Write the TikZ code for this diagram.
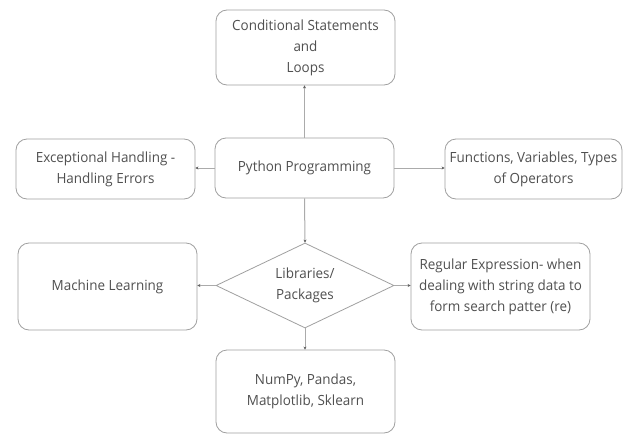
\documentclass[tikz,border=0pt]{standalone}
\usepackage{fontspec}
\setmainfont{Open Sans}[FakeStretch=0.96]
\usetikzlibrary{shapes.geometric,arrows.meta}
\definecolor{boxline}{HTML}{A0A0A0}
\definecolor{linkline}{HTML}{ABABAB}
\definecolor{txt}{HTML}{505050}
\definecolor{tipcol}{HTML}{606060}
\tikzset{
  card/.style={draw=boxline, line width=0.8pt, rounded corners=11pt, fill=white,
    align=center, text=txt, font=\fontsize{14}{21}\selectfont, inner sep=0pt},
  choice/.style={draw=boxline, line width=0.8pt, diamond, aspect=2.09, fill=white,
    align=center, text=txt, font=\fontsize{14}{21}\selectfont, inner sep=0pt,
    minimum width=178pt, minimum height=85pt},
  link/.style={draw=linkline, line width=1pt, -{Stealth[length=3pt,width=3pt,color=tipcol]}}
}
\begin{document}
\begin{tikzpicture}[x=1pt,y=-1pt]
  \useasboundingbox (0,0) rectangle (635,434);
  \fill[white] (0,0) rectangle (635,434);

  % central topic and its four neighbours
  \node[card, minimum width=179pt, minimum height=60pt] (py) at (304.5,168) {Python Programming};
  \node[card, minimum width=179pt, minimum height=75pt] (cond) at (305.5,47.5) {Conditional Statements\\and\\Loops};
  \node[card, minimum width=179pt, minimum height=60pt] (exc) at (105.5,169) {Exceptional Handling -\\Handling Errors};
  \node[card, minimum width=177pt, minimum height=60pt] (fun) at (533.5,169) {Functions, Variables, Types\\of Operators};

  % libraries branch
  \node[choice] (lib) at (305,285.5) {Libraries/\\Packages};
  \node[card, minimum width=179pt, minimum height=87pt] (ml) at (107.5,286.5) {Machine Learning};
  \node[card, minimum width=179pt, minimum height=87pt] (re) at (500.5,286.5) {Regular Expression- when\\dealing with string data to\\form search patter (re)};
  \node[card, minimum width=179pt, minimum height=83pt] (np) at (305.5,391.5) {NumPy, Pandas,\\Matplotlib, Sklearn};

  % connectors
  \draw[link] (py.north) -- (py.north |- cond.south);
  \draw[link] (py.west) -- (exc.east |- py.west);
  \draw[link] (py.east) -- (fun.west |- py.east);
  \draw[link] (py.south) -- (lib.north);
  \draw[link] (lib.west) -- (ml.east |- lib.west);
  \draw[link] (lib.east) -- (re.west |- lib.east);
  \draw[link] (lib.south) -- (lib.south |- np.north);
\end{tikzpicture}
\end{document}
